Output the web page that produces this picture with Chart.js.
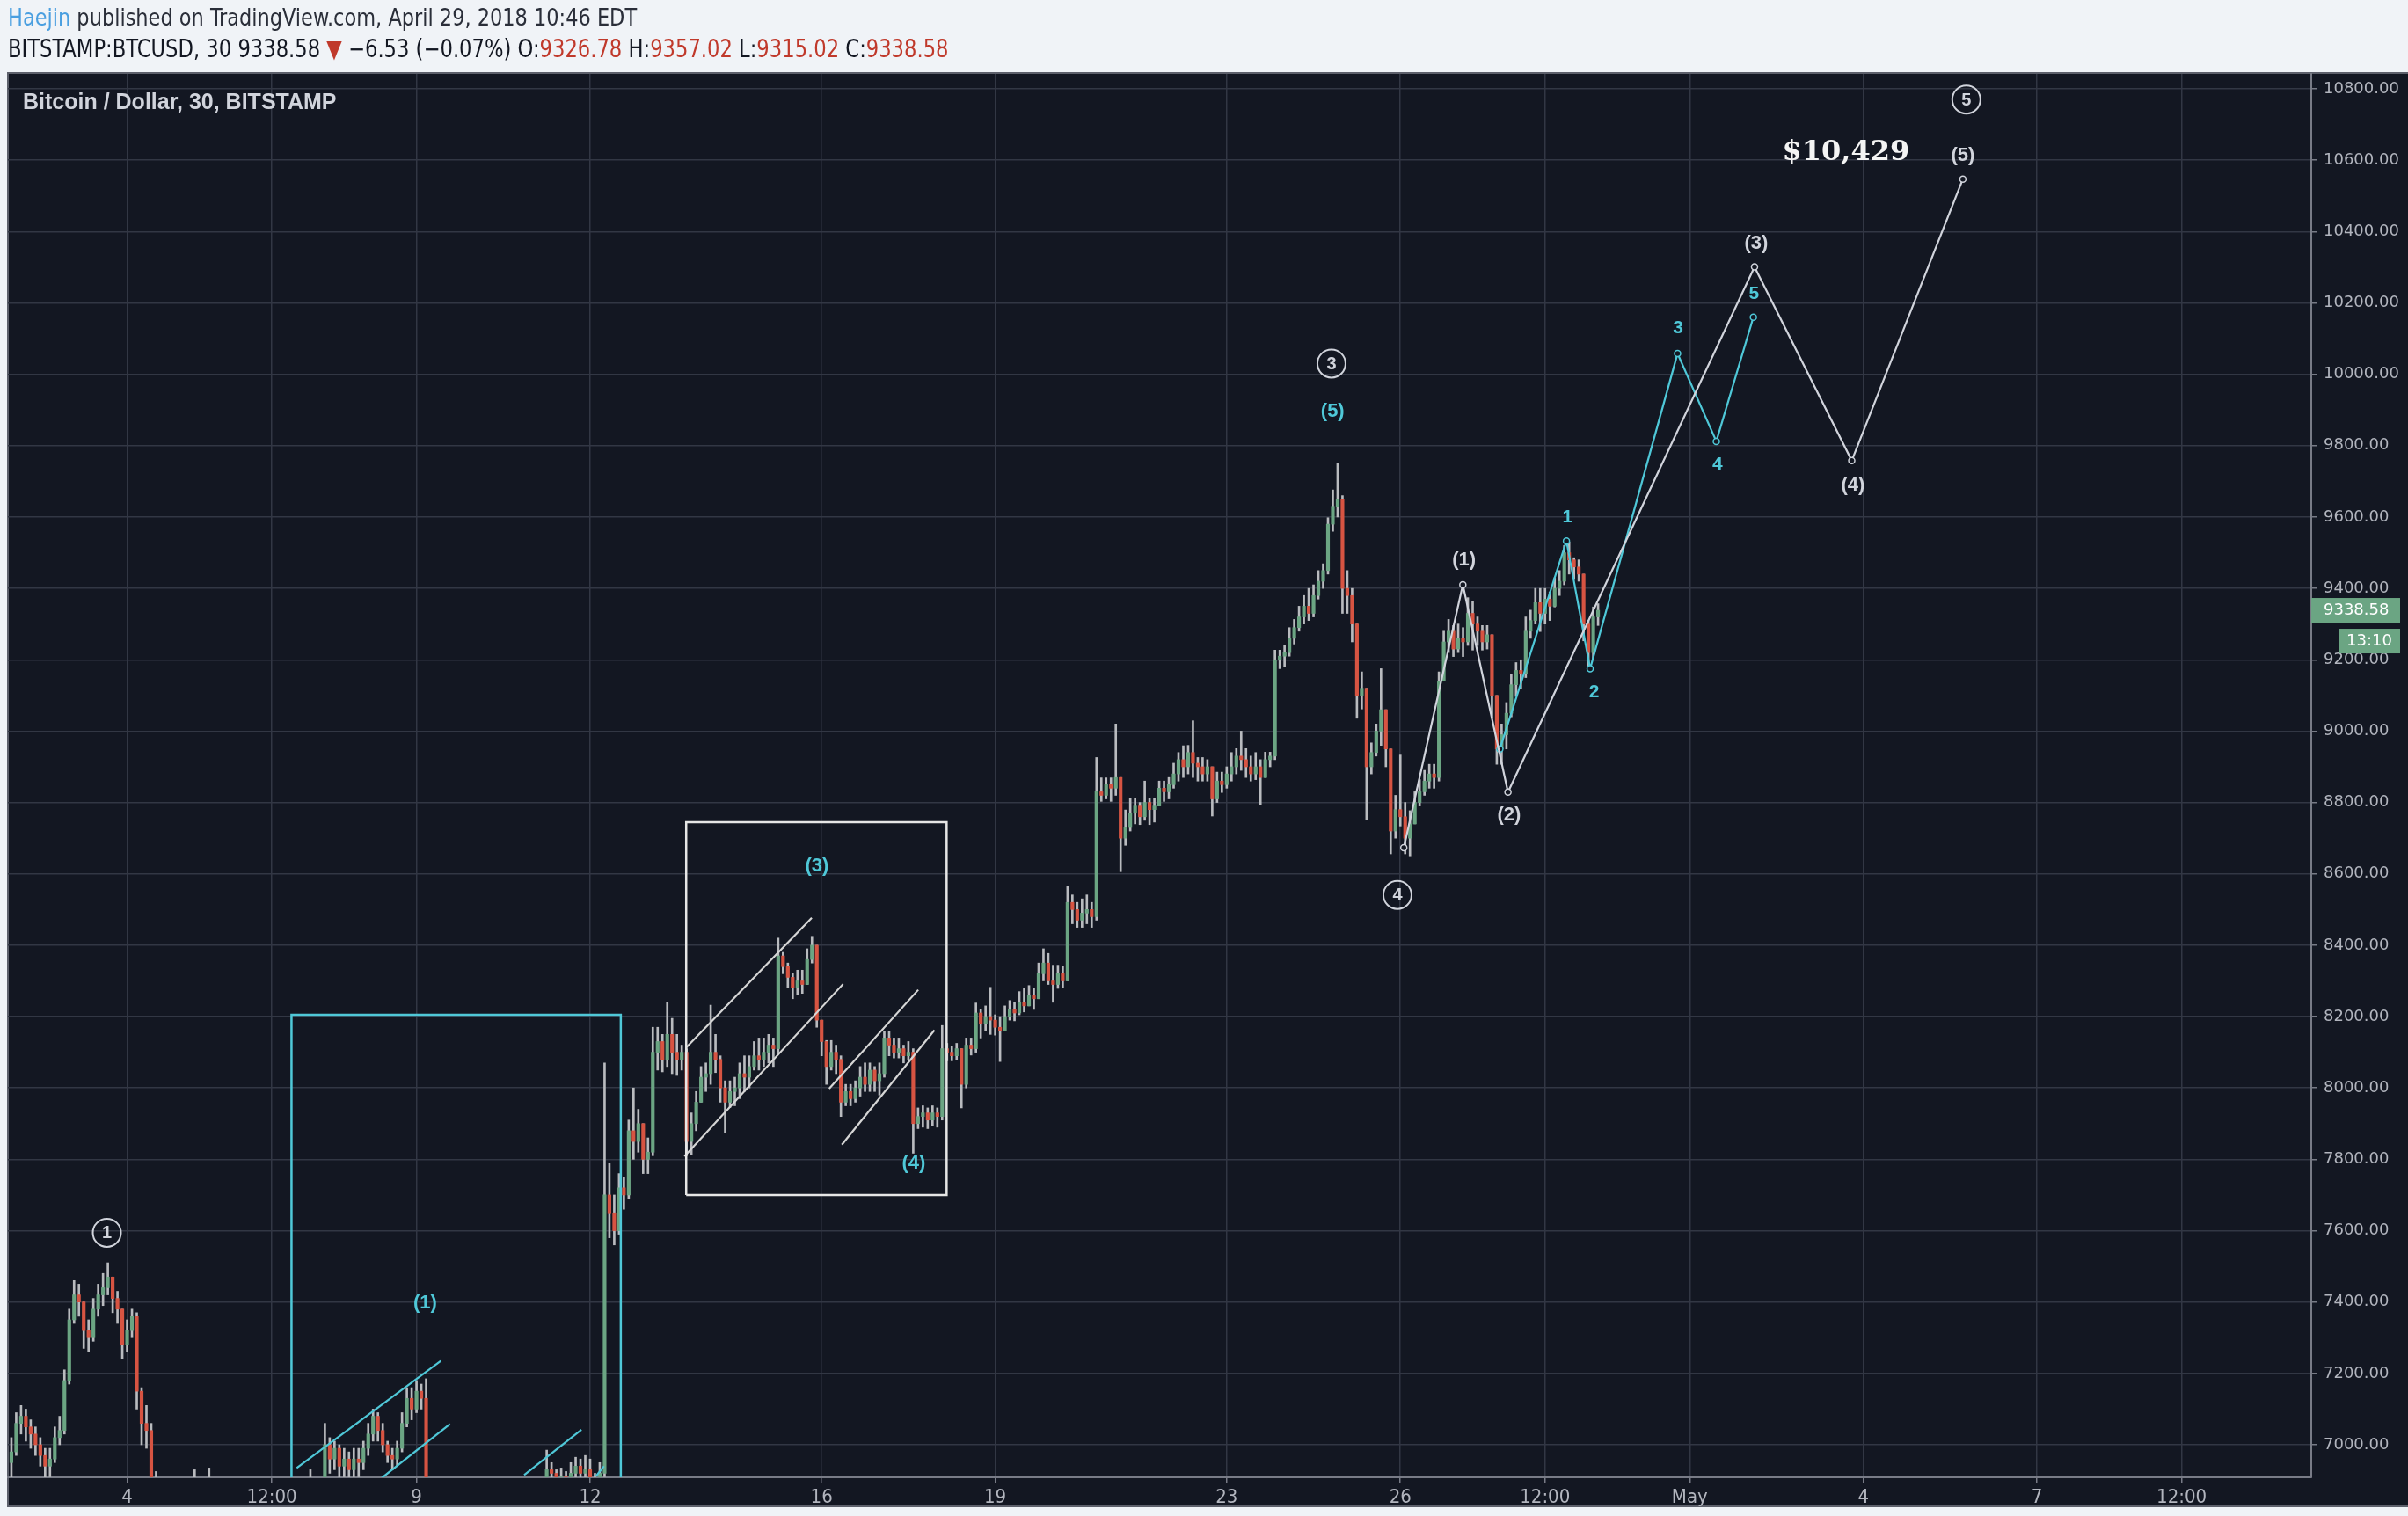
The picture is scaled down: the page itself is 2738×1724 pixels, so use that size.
<!DOCTYPE html>
<html>
<head>
<meta charset="utf-8">
<title>BTCUSD 30</title>
<script src="https://cdn.jsdelivr.net/npm/chart.js@4.4.1/dist/chart.umd.min.js"></script>
<style>
html,body{margin:0;padding:0;background:#f0f3f7;}
#wrap{position:relative;width:2738px;height:1724px;overflow:hidden;}
#myChart{position:absolute;left:0;top:0;}
.head{position:absolute;left:9px;font-family:'Liberation Sans Narrow','DejaVu Sans Condensed','Liberation Sans',sans-serif;white-space:nowrap;color:#131722;transform-origin:0 0;}
#line1{top:4px;font-size:27px;color:#2a2e39;transform:scaleX(0.925);}
#line2{top:39px;font-size:28px;transform:scaleX(0.9);}
.blue{color:#4a9fe0;}
.red{color:#c0392b;}
</style>
</head>
<body>
<div id="wrap">
<canvas id="myChart" width="2738" height="1724"></canvas>
<div class="head" id="line1"><span class="blue">Haejin</span> published on TradingView.com, April 29, 2018 10:46 EDT</div>
<div class="head" id="line2">BITSTAMP:BTCUSD, 30 9338.58 <span class="red">▼</span> −6.53 (−0.07%) O:<span class="red">9326.78</span> H:<span class="red">9357.02</span> L:<span class="red">9315.02</span> C:<span class="red">9338.58</span></div>
</div>
<script>
// candles every 2 hours, x = day of April (May 1 = 31)
var startDay = 2;
var stepDays = 1/12;
var firstOpen = 6950;

var closes = [
6980,7060,7080,7050,7030,7000,6970,6940,6960,7020,7040,7180,
7350,7420,7400,7320,7300,7380,7420,7440,7470,7410,7380,7280,
7320,7360,7150,7060,7040,6860,6800,6830,6790,6760,6800,6780,
6760,6800,6840,6820,6800,6860,6780,6760,6740,6720,6700,6720,
6740,6700,6650,6620,6600,6580,6560,6610,6640,6620,6600,6630,
6660,6700,6880,6860,6850,7000,6960,6990,6940,6960,6930,6960,
6950,6990,7030,7080,7040,7000,6970,6960,6990,7060,7130,7100,
7150,7130,6850,6800,6780,6760,6740,6720,6700,6690,6710,6730,
6750,6780,6800,6770,6740,6760,6790,6810,6780,6760,6790,6820,
6830,6850,6870,6930,6920,6900,6910,6890,6920,6940,6920,6930,
6900,6880,6920,7700,7650,7600,7720,7700,7880,7850,7900,7800,
7820,8100,8130,8080,8150,8100,8080,8100,7850,7900,7960,8030,
8040,8100,8080,8000,7960,7990,8000,8040,8030,8060,8090,8080,
8100,8120,8110,8370,8340,8310,8280,8300,8290,8360,8400,8190,
8130,8060,8100,8080,7960,7990,7970,8000,8030,8010,8050,8020,
8040,8140,8120,8100,8110,8090,8100,7900,7920,7930,7910,7930,
7920,8110,8100,8090,8110,8010,8120,8110,8210,8180,8200,8190,
8170,8160,8200,8220,8210,8240,8230,8260,8250,8320,8350,8300,
8290,8320,8300,8520,8500,8470,8490,8500,8480,8830,8820,8850,
8840,8870,8700,8730,8770,8790,8760,8800,8780,8790,8840,8830,
8850,8880,8920,8900,8940,8910,8900,8880,8900,8810,8860,8850,
8880,8900,8930,8920,8900,8880,8900,8870,8920,8930,9200,9210,
9220,9260,9290,9320,9350,9330,9380,9420,9450,9580,9630,9650,
9400,9380,9300,9100,9120,8900,8940,9000,9060,8950,8720,8780,
8760,8700,8740,8800,8830,8860,8880,8870,9140,9250,9280,9230,
9260,9250,9330,9300,9280,9250,9270,9100,8950,8990,9050,9130,
9170,9160,9280,9310,9360,9330,9370,9350,9400,9420,9500,9480,
9460,9440,9300,9220,9320,9338.58
];

var highs = [
7020,7090,7110,7100,7070,7050,7020,6990,6990,7050,7080,7210,
7380,7460,7450,7400,7350,7410,7450,7480,7510,7470,7430,7380,
7350,7380,7370,7160,7110,7060,6925,6870,6850,6810,6830,6820,
6800,6840,6930,6870,6850,6935,6870,6800,6790,6770,6750,6760,
6780,6760,6710,6670,6650,6620,6600,6640,6670,6660,6640,6660,
6700,6740,6930,6900,6890,7060,7020,7010,7000,6990,6980,6990,
6990,7010,7060,7100,7090,7060,7010,6990,7010,7090,7160,7160,
7180,7170,7185,6860,6830,6800,6780,6760,6740,6730,6740,6760,
6780,6810,6830,6820,6790,6790,6820,6840,6830,6800,6820,6850,
6870,6890,6900,6985,6950,6930,6935,6925,6950,6965,6960,6970,
6960,6920,6950,8070,7790,7700,7760,7750,7910,8000,7940,7900,
7860,8170,8170,8150,8240,8195,8150,8120,8110,7930,7990,8060,
8070,8232,8150,8090,8020,8020,8030,8070,8090,8090,8130,8140,
8140,8150,8140,8420,8380,8350,8320,8330,8330,8390,8425,8400,
8190,8133,8133,8120,8090,8010,8010,8020,8060,8070,8070,8060,
8070,8158,8158,8140,8140,8120,8130,8110,7944,7950,7944,7950,
7944,8175,8125,8117,8125,8110,8140,8140,8238,8220,8230,8282,
8205,8200,8230,8245,8240,8270,8280,8287,8280,8350,8390,8377,
8344,8344,8340,8566,8541,8520,8530,8541,8520,8926,8869,8869,
8869,9020,8870,8779,8811,8811,8800,8860,8811,8811,8860,8860,
8870,8910,8940,8959,8960,9029,8926,8926,8920,8900,8885,8885,
8900,8940,8951,9000,8951,8930,8940,8920,8941,8941,9227,9227,
9240,9290,9313,9350,9380,9400,9410,9450,9469,9598,9676,9750,
9660,9450,9400,9300,9166,9120,8967,9020,9175,9060,8950,8820,
8933,8800,8777,8830,8864,8890,8907,8907,9166,9280,9313,9296,
9300,9290,9374,9365,9320,9296,9296,9270,9100,9020,9080,9160,
9192,9200,9320,9339,9400,9400,9400,9390,9430,9450,9520,9530,
9486,9480,9440,9310,9348,9357.02
];

var lows = [
6900,6970,7030,7010,6990,6970,6940,6900,6910,6950,7000,7030,
7170,7340,7360,7270,7260,7290,7360,7390,7420,7370,7340,7240,
7260,7300,7100,7000,6990,6820,6760,6780,6750,6720,6740,6740,
6700,6740,6800,6780,6760,6790,6740,6710,6700,6680,6650,6680,
6690,6660,6610,6580,6560,6540,6520,6550,6590,6580,6560,6590,
6620,6660,6690,6820,6810,6840,6920,6930,6900,6910,6900,6910,
6910,6930,6970,7010,7010,6980,6950,6930,6940,6980,7050,7070,
7090,7100,6820,6760,6750,6720,6700,6680,6660,6650,6670,6690,
6710,6740,6760,6740,6710,6720,6750,6770,6750,6730,6750,6780,
6790,6810,6830,6860,6890,6870,6880,6860,6880,6900,6890,6900,
6870,6850,6870,6910,7580,7560,7590,7660,7690,7800,7820,7760,
7760,7810,8050,8045,8060,8040,8035,8050,7810,7812,7880,7960,
7990,8010,8043,7960,7875,7945,7950,7970,7990,8000,8050,8050,
8060,8070,8060,8100,8320,8280,8250,8260,8265,8290,8350,8170,
8090,8010,8050,8040,7920,7950,7950,7960,7977,7990,7990,7990,
7980,8030,8090,8084,8084,8070,8080,7817,7886,7890,7886,7895,
7890,7910,8076,8076,8080,7944,8000,8092,8100,8140,8160,8150,
8148,8074,8160,8190,8188,8205,8213,8230,8220,8250,8300,8290,
8240,8279,8280,8300,8460,8450,8450,8460,8450,8470,8803,8810,
8803,8820,8606,8680,8720,8740,8738,8750,8738,8745,8790,8803,
8810,8840,8860,8870,8880,8870,8860,8860,8860,8762,8800,8828,
8840,8860,8880,8890,8870,8860,8864,8794,8870,8900,8920,9175,
9180,9210,9244,9280,9300,9310,9320,9370,9400,9440,9560,9600,
9330,9330,9250,9036,9062,8751,8880,8930,8960,8900,8656,8700,
8734,8656,8648,8740,8790,8820,8840,8840,8860,9140,9220,9209,
9220,9209,9240,9227,9240,9227,9230,9036,8907,8907,8950,9040,
9097,9120,9150,9260,9300,9279,9300,9310,9348,9380,9410,9440,
9425,9420,9253,9175,9200,9296
];

var xTicks = [4, 6.5, 9, 12, 16, 19, 23, 26, 28.5, 31, 34, 37, 39.5];
var xLabels = ['4','12:00','9','12','16','19','23','26','12:00','May','4','7','12:00'];
var yTicks = [7000,7200,7400,7600,7800,8000,8200,8400,8600,8800,9000,9200,9400,9600,9800,10000,10200,10400,10600,10800];

// wave counts
var whiteWaveX = [26.06, 27.08, 27.86, 32.12, 33.8, 35.72];
var whiteWaveY = [8673, 9410, 8829, 10301, 9758, 10547];
var cyanWaveX = [27.72, 28.87, 29.28, 30.79, 31.46, 32.1];
var cyanWaveY = [8950, 9533, 9175, 10058, 9812, 10160];

// boxes: x1, x2, y1, y2
var cyanBox = [6.84, 12.53, 6700, 8205];
var whiteBox = [13.66, 18.16, 7700, 8745];

// channel lines: x1, y1, x2, y2, colour
var channels = [
  [6.93, 6935, 9.42, 7235, 'c'],
  [8.4, 6907, 9.58, 7058, 'c'],
  [10.86, 6915, 11.85, 7042, 'c'],
  [12.1, 6912, 12.24, 6940, 'c'],
  [13.66, 8113, 15.83, 8477, 'w'],
  [13.63, 7808, 16.37, 8291, 'w'],
  [16.13, 7998, 17.67, 8275, 'w'],
  [16.35, 7841, 17.95, 8162, 'w']
];

var notes = [
  {x:3.65, y:7594, t:'1', ring:true},
  {x:24.81, y:10030, t:'3', ring:true},
  {x:25.95, y:8541, t:'4', ring:true},
  {x:35.78, y:10770, t:'5', ring:true},
  {x:9.15, y:7396, t:'(1)', c:'c'},
  {x:15.92, y:8621, t:'(3)', c:'c'},
  {x:17.59, y:7789, t:'(4)', c:'c'},
  {x:24.83, y:9896, t:'(5)', c:'c'},
  {x:27.1, y:9479, t:'(1)'},
  {x:27.88, y:8765, t:'(2)'},
  {x:32.15, y:10367, t:'(3)'},
  {x:33.82, y:9688, t:'(4)'},
  {x:35.72, y:10613, t:'(5)'},
  {x:28.89, y:9600, t:'1', c:'c', s:true},
  {x:29.35, y:9109, t:'2', c:'c', s:true},
  {x:30.8, y:10128, t:'3', c:'c', s:true},
  {x:31.48, y:9746, t:'4', c:'c', s:true},
  {x:32.11, y:10226, t:'5', c:'c', s:true},
  {x:33.7, y:10622, t:'$10,429', big:true}
];

var lastPrice = 9338.58;

var WHITE = '#d1d4dc';
var CYAN = '#4fc8d8';
var UP = '#6ba583';
var DOWN = '#d75442';
var WICK = '#b9bbbf';
var GRID = '#323744';
var AXIS = '#787b86';
var NARROW = "'Liberation Sans Narrow','DejaVu Sans Condensed','Liberation Sans',sans-serif";

var opens = closes.map(function(c, i){ return i == 0 ? firstOpen : closes[i-1]; });
var wicks = [];
var bodies = [];
closes.forEach(function(c, i){
  var t = startDay + i*stepDays;
  wicks.push({x:t, y:[Math.min(lows[i], opens[i], c), Math.max(highs[i], opens[i], c)]});
  bodies.push({x:t, y:[opens[i], c]});
});

function lineSet(xs, ys, color, width, dots){
  return {
    type:'line',
    data: xs.map(function(x, i){ return {x:x, y:ys[i]}; }),
    borderColor: color,
    borderWidth: width,
    pointRadius: dots ? 3.5 : 0,
    pointBorderWidth: 1.5,
    pointBorderColor: color,
    pointBackgroundColor: '#131722',
    tension: 0,
    fill: false,
    order: 1
  };
}

function boxSet(b, color){
  return lineSet([b[0], b[0], b[1], b[1], b[0]], [b[2], b[3], b[3], b[2], b[2]], color, 2.5, false);
}

var sets = [
  {type:'bar', data:wicks, backgroundColor:WICK, barThickness:2, grouped:false, order:11},
  {type:'bar', data:bodies, backgroundColor:function(ctx){
      var i = ctx.dataIndex;
      return closes[i] >= opens[i] ? UP : DOWN;
    }, barThickness:3.5, minBarLength:1, grouped:false, order:10},
  boxSet(cyanBox, CYAN),
  boxSet(whiteBox, '#e6e6e6')
];
channels.forEach(function(ch){
  sets.push(lineSet([ch[0], ch[2]], [ch[1], ch[3]], ch[4] == 'c' ? CYAN : '#d6d6d6', 2.2, false));
});
sets.push(lineSet(whiteWaveX, whiteWaveY, WHITE, 2.2, true));
sets.push(lineSet(cyanWaveX, cyanWaveY, CYAN, 2.2, true));

var backdrop = {
  id: 'backdrop',
  beforeDraw: function(chart){
    var c = chart.ctx;
    c.save();
    c.fillStyle = '#f0f3f7';
    c.fillRect(0, 0, chart.width, chart.height);
    c.fillStyle = '#131722';
    c.fillRect(9, 82, chart.width - 9, 1632);
    c.strokeStyle = '#5d606b';
    c.lineWidth = 2;
    c.strokeRect(9, 83, chart.width - 8, 1630);
    c.restore();
  }
};

var marks = {
  id: 'marks',
  afterDatasetsDraw: function(chart){
    var c = chart.ctx;
    var sx = chart.scales.x, sy = chart.scales.y;
    c.save();
    c.textAlign = 'center';
    c.textBaseline = 'middle';
    notes.forEach(function(n){
      var px = sx.getPixelForValue(n.x);
      var py = sy.getPixelForValue(n.y);
      var col = n.c == 'c' ? CYAN : WHITE;
      if(n.ring){
        c.strokeStyle = WHITE;
        c.lineWidth = 2;
        c.beginPath();
        c.arc(px, py, 16, 0, Math.PI*2);
        c.stroke();
        c.fillStyle = WHITE;
        c.font = 'bold 20px "Liberation Sans", sans-serif';
        c.fillText(n.t, px, py + 1);
      } else if(n.big){
        c.fillStyle = '#f4f4f4';
        c.font = 'bold 32px "DejaVu Serif", serif';
        c.fillText(n.t, px, py);
      } else {
        c.fillStyle = col;
        c.font = (n.s ? 'bold 21px' : 'bold 22px') + ' "Liberation Sans", sans-serif';
        c.fillText(n.t, px, py);
      }
    });
    c.restore();
  },
  afterDraw: function(chart){
    var c = chart.ctx;
    var a = chart.chartArea;
    var py = chart.scales.y.getPixelForValue(lastPrice);
    c.save();
    c.fillStyle = '#d1d4dc';
    c.font = 'bold 25px "Liberation Sans", sans-serif';
    c.textBaseline = 'middle';
    c.textAlign = 'left';
    c.fillText('Bitcoin / Dollar, 30, BITSTAMP', 26, 117);
    c.fillStyle = UP;
    c.fillRect(a.right, py - 14, 101, 28);
    c.fillRect(a.right + 31, py + 21, 70, 28);
    c.fillStyle = '#ffffff';
    c.font = '18px "DejaVu Sans", sans-serif';
    c.fillText(lastPrice.toFixed(2), a.right + 14, py);
    c.textAlign = 'center';
    c.fillText('13:10', a.right + 66, py + 35);
    c.restore();
  }
};

var chart = new Chart(document.getElementById('myChart'), {
  type: 'bar',
  data: { datasets: sets },
  options: {
    responsive: false,
    devicePixelRatio: 1,
    animation: false,
    events: [],
    layout: { padding: { left: 9, right: 0, top: 84, bottom: 0 } },
    plugins: { legend: { display: false }, tooltip: { enabled: false } },
    scales: {
      x: {
        type: 'linear',
        min: 1.94,
        max: 41.74,
        offset: false,
        afterBuildTicks: function(s){ s.ticks = xTicks.map(function(v){ return {value:v}; }); },
        afterFit: function(s){ s.height = 44; },
        grid: { color: GRID, lineWidth: 1.5, offset: false, tickColor: AXIS, tickLength: 6 },
        border: { display: true, color: AXIS, width: 2 },
        ticks: {
          autoSkip: false,
          maxRotation: 0,
          padding: 4,
          color: '#b2b5be',
          font: { family: NARROW, size: 22 },
          callback: function(v){ var i = xTicks.indexOf(v); return i >= 0 ? xLabels[i] : ''; }
        }
      },
      y: {
        type: 'linear',
        position: 'right',
        min: 6908.8,
        max: 10841.9,
        afterBuildTicks: function(s){ s.ticks = yTicks.map(function(v){ return {value:v}; }); },
        afterFit: function(s){ s.width = 110; },
        grid: { color: GRID, lineWidth: 1.5, tickColor: AXIS, tickLength: 6 },
        border: { display: true, color: AXIS, width: 2 },
        ticks: {
          padding: 8,
          color: '#b2b5be',
          font: { family: "'DejaVu Sans', sans-serif", size: 18 },
          callback: function(v){ return Number(v).toFixed(2); }
        }
      }
    }
  },
  plugins: [backdrop, marks]
});
</script>
</body>
</html>
